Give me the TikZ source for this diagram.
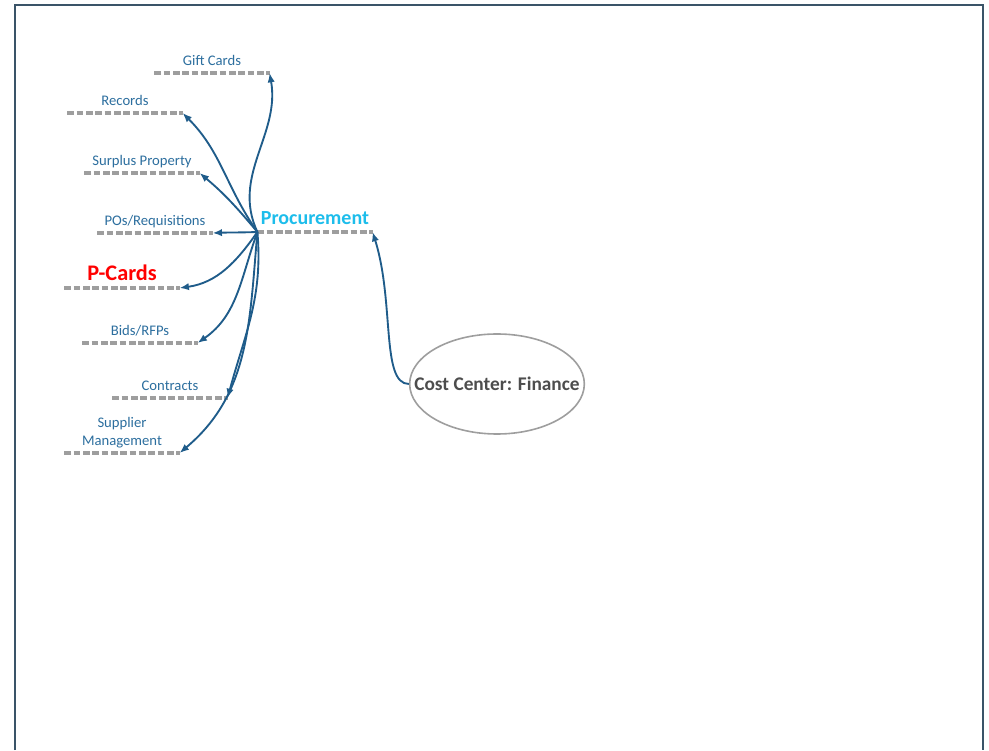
\documentclass[tikz,border=0pt]{standalone}
\usepackage{fontspec}
\setmainfont{Carlito}
\usetikzlibrary{arrows.meta, positioning, shapes.geometric}
\definecolor{linkblue}{HTML}{1F5C8A}
\definecolor{topicblue}{HTML}{2C6E9E}
\definecolor{proccyan}{HTML}{1DBDEB}
\definecolor{ulgray}{HTML}{9E9E9E}
\definecolor{framecol}{HTML}{3A5468}
\definecolor{centergray}{HTML}{4D4D4D}

\tikzset{
    topic/.style={anchor=south, minimum width=86pt, inner xsep=0pt, inner ysep=3pt, text depth=.25em,
        font=\fontsize{11}{13}\selectfont, text=topicblue, align=center},
    uline/.style={draw=ulgray, line width=2.4pt, dash pattern=on 5pt off 2pt},
    link/.style={draw=linkblue, line width=1.4pt, -{Latex[length=7pt,width=5.5pt]}},
    framebox/.style={draw=framecol, line width=1.5pt}
}

\begin{document}
\begin{tikzpicture}[x=0.75pt, y=0.75pt]
    \useasboundingbox (0,0) rectangle (989,750);
    % Page frame
    \draw[framebox] (15,0) -- (15,745) -- (983,745) -- (983,0);

    % Central topic
    \node[ellipse, draw=ulgray, line width=1.2pt, minimum width=131pt, minimum height=75pt,
        label={[font=\bfseries\fontsize{14.5}{17}\selectfont, text=centergray]center:Cost Center: Finance}]
        (cost) at (497,366) {};

    % Main topic
    \node[topic, font=\bfseries\fontsize{15}{17}\selectfont, text=proccyan] (proc) at (315,518) {Procurement};

    % Sub topics
    \node[topic] (gift) at (212,677) {Gift Cards};
    \node[topic] (records) at (125,637) {Records};
    \node[topic] (surplus) at (142,577) {Surplus Property};
    \node[topic] (pos) at (155,517) {POs/Requisitions};
    \node[topic, font=\bfseries\fontsize{16.7}{19}\selectfont, text=red] (pcards) at (122,462) {P-Cards};
    \node[topic] (bids) at (140,407) {Bids/RFPs};
    \node[topic] (contracts) at (170,352) {Contracts};
    \node[topic, font=\fontsize{11}{13.5}\selectfont] (supplier) at (122,297) {Supplier\\Management};

    % Underlines
    \foreach \n in {proc,gift,records,surplus,pos,pcards,bids,contracts,supplier} {
        \draw[uline] (\n.south west) -- (\n.south east);
    }

    % Connectors
    \draw[link] (cost.west) .. controls +(-28,0) and +(22,-70) .. (proc.south east);
    \foreach \n/\o/\i in {gift/115/-80, records/125/-45, surplus/130/-40, pos/182/2,
        pcards/-125/8, bids/-110/35, contracts/-85/75, supplier/-95/40} {
        \draw[link] (proc.south west) to[out=\o,in=\i] (\n.south east);
    }
\end{tikzpicture}
\end{document}
